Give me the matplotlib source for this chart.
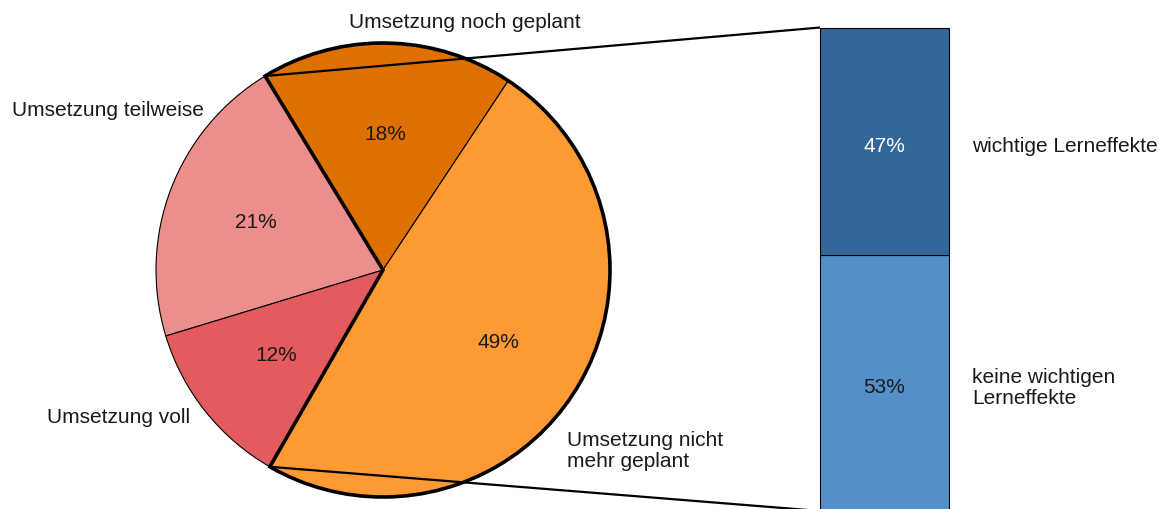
import numpy as np
import matplotlib
matplotlib.use("Agg")
import matplotlib.pyplot as plt
from matplotlib.patches import Wedge

plt.rcParams['font.family'] = ['Liberation Sans', 'DejaVu Sans']

# data
pie_labels = ["Umsetzung noch geplant", "Umsetzung teilweise", "Umsetzung voll",
              "Umsetzung nicht\nmehr geplant"]
pie_values = [18, 21, 12, 49]
pie_colors = ["#DE7000", "#EC8E8B", "#E35B5E", "#FD9A33"]

bar_labels = ["keine wichtigen\nLerneffekte", "wichtige Lerneffekte"]
bar_values = [53, 47]
bar_colors = ["#5490C7", "#336699"]
bar_text_colors = ["#1a1a1a", "white"]

W, H = 1166, 510
fig = plt.figure(figsize=(W / 100, H / 100), dpi=100)
ax = fig.add_axes([0, 0, 1, 1])

cx, cy, r = 383, 239, 227
start = 56.5
wedges, texts, autotexts = ax.pie(
    pie_values, colors=pie_colors, startangle=start, counterclock=True,
    center=(cx, cy), radius=r, autopct=lambda p: f"{p:.0f}%", pctdistance=0.6,
    wedgeprops=dict(edgecolor="black", linewidth=0.8),
    textprops=dict(fontsize=15, color="#1a1a1a"))

# cumulative angles
cum = start + 360 * np.cumsum(pie_values) / sum(pie_values)
a_top = cum[0]          # boundary between 18% and 21%
a_bot = cum[2]          # boundary between 12% and 49%

# thick outline around the exploded group (18% + 49%)
ax.add_patch(Wedge((cx, cy), r, a_bot, a_top + 360, fill=False,
                   edgecolor="black", linewidth=2.6, zorder=3))

# bar of pie
bx, bw = 820, 129
b_bottom, b_top = -2, 481.5
total_h = b_top - b_bottom
heights = [v / sum(bar_values) * total_h for v in bar_values]
bottoms = [b_bottom, b_bottom + heights[0]]
ax.bar([bx, bx], heights, bottom=bottoms, width=bw, align="edge",
       color=bar_colors, edgecolor="black", linewidth=0.8, zorder=2)
for h, b, v, tc, lab in zip(heights, bottoms, bar_values, bar_text_colors, bar_labels):
    ax.text(bx + bw / 2, b + h / 2 - 4, f"{v}%", ha="center", va="center",
            fontsize=15, color=tc)
    ax.text(972, b + h / 2 - 4, lab, ha="left", va="center", fontsize=15,
            color="#1a1a1a", linespacing=1.1)

# connector lines
p1 = (cx + r * np.cos(np.radians(a_top)), cy + r * np.sin(np.radians(a_top)))
p2 = (cx + r * np.cos(np.radians(a_bot)), cy + r * np.sin(np.radians(a_bot)))
ax.plot([p1[0], bx], [p1[1], b_top], color="black", lw=1.6, zorder=4,
        solid_capstyle="butt")
ax.plot([p2[0], bx], [p2[1], b_bottom], color="black", lw=1.6, zorder=4,
        solid_capstyle="butt")

# outer pie labels
ax.text(465, 488, pie_labels[0], ha="center", va="center", fontsize=15, color="#1a1a1a")
ax.text(204, 400, pie_labels[1], ha="right", va="center", fontsize=15, color="#1a1a1a")
ax.text(190, 92, pie_labels[2], ha="right", va="center", fontsize=15, color="#1a1a1a")
ax.text(567, 59, pie_labels[3], ha="left", va="center", fontsize=15, color="#1a1a1a",
        linespacing=1.1)

ax.set_xlim(0, W)
ax.set_ylim(0, H)
ax.set_aspect("auto")
ax.axis("off")
fig.savefig("out.png", dpi=100)
